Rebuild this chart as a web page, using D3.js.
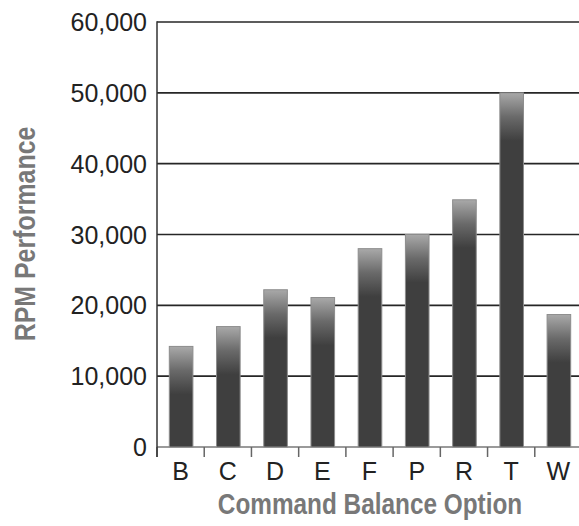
<!DOCTYPE html>
<html>
<head>
<meta charset="utf-8">
<script src="https://cdn.jsdelivr.net/npm/d3@7/dist/d3.min.js"></script>
<style>
  html, body { margin: 0; padding: 0; background: #fff; }
  svg { display: block; }
</style>
</head>
<body>
<svg id="chart" width="579" height="526"></svg>
<script>
const categories = ["B", "C", "D", "E", "F", "P", "R", "T", "W"];
const values = [14200, 17000, 22200, 21100, 28000, 30000, 34900, 50000, 18700];
const yTicks = [0, 10000, 20000, 30000, 40000, 50000, 60000];
const xTitle = "Command Balance Option";
const yTitle = "RPM Performance";

(function () {
const svg = d3.select("#chart");
const W = 579;
const mLeft = 157, mRight = 582, mTop = 22, mBottom = 447;

const x = d3.scaleBand().domain(categories).range([mLeft, mRight]).paddingInner(0.5).paddingOuter(0.25);
const y = d3.scaleLinear().domain([0, 60000]).range([mBottom, mTop]);

const narrowBold = "'Liberation Sans', Arial, sans-serif";
const tickFont = "'Liberation Sans', Arial, sans-serif";

// gridlines
svg.append("g").selectAll("line")
  .data(yTicks.filter(d => d > 0))
  .join("line")
  .attr("x1", mLeft).attr("x2", W)
  .attr("y1", d => y(d)).attr("y2", d => y(d))
  .attr("stroke", "#262626").attr("stroke-width", 1.6);

// baseline
svg.append("line")
  .attr("x1", mLeft).attr("x2", W)
  .attr("y1", y(0)).attr("y2", y(0))
  .attr("stroke", "#9a9a9a").attr("stroke-width", 2);

// x ticks at band boundaries
const step = x.step();
const bounds = d3.range(categories.length).map(i => mLeft + i * step);
svg.append("g").selectAll("line")
  .data(bounds)
  .join("line")
  .attr("x1", d => d).attr("x2", d => d)
  .attr("y1", y(0)).attr("y2", y(0) + 10)
  .attr("stroke", "#666").attr("stroke-width", 1.5);

// gradients per bar
const defs = svg.append("defs");
categories.forEach((c, i) => {
  const yt = y(values[i]);
  const g = defs.append("linearGradient")
    .attr("id", "grad" + i)
    .attr("gradientUnits", "userSpaceOnUse")
    .attr("x1", 0).attr("x2", 0)
    .attr("y1", yt).attr("y2", yt + 48);
  g.append("stop").attr("offset", 0).attr("stop-color", "#a9a9a9");
  g.append("stop").attr("offset", 0.5).attr("stop-color", "#6a6a6a");
  g.append("stop").attr("offset", 1).attr("stop-color", "#3f3f3f");
});

// bars
svg.append("g").selectAll("rect")
  .data(categories.map((c, i) => ({c, v: values[i], i})))
  .join("rect")
  .attr("x", d => x(d.c) + 0.5)
  .attr("y", d => y(d.v))
  .attr("width", x.bandwidth())
  .attr("height", d => y(0) - y(d.v))
  .attr("fill", d => "url(#grad" + d.i + ")")
  .attr("stroke", "#8c8c8c").attr("stroke-width", 1);

// y axis line
svg.append("line")
  .attr("x1", mLeft).attr("x2", mLeft)
  .attr("y1", mTop - 0.8).attr("y2", y(0) + 10)
  .attr("stroke", "#333").attr("stroke-width", 1.5);

// y tick labels
svg.append("g").selectAll("text")
  .data(yTicks)
  .join("text")
  .attr("x", 147)
  .attr("y", d => y(d))
  .attr("dy", "0.36em")
  .attr("text-anchor", "end")
  .attr("font-family", tickFont)
  .attr("font-size", 25)
  .attr("fill", "#222")
  .text(d => d3.format(",")(d));

// x tick labels
svg.append("g").selectAll("text")
  .data(categories)
  .join("text")
  .attr("x", d => x(d) + x.bandwidth() / 2)
  .attr("y", 480)
  .attr("text-anchor", "middle")
  .attr("font-family", tickFont)
  .attr("font-size", 25)
  .attr("fill", "#222")
  .text(d => d);

// x title
svg.append("text")
  .attr("transform", "translate(370,514) scale(0.84,1)")
  .attr("text-anchor", "middle")
  .attr("font-family", narrowBold)
  .attr("font-weight", "bold")
  .attr("font-size", 29)
  .attr("fill", "#787878")
  .text(xTitle);

// y title
svg.append("text")
  .attr("transform", "translate(35,234) rotate(-90) scale(0.86,1)")
  .attr("text-anchor", "middle")
  .attr("font-family", narrowBold)
  .attr("font-weight", "bold")
  .attr("font-size", 29)
  .attr("fill", "#787878")
  .text(yTitle);
})();
</script>
</body>
</html>
